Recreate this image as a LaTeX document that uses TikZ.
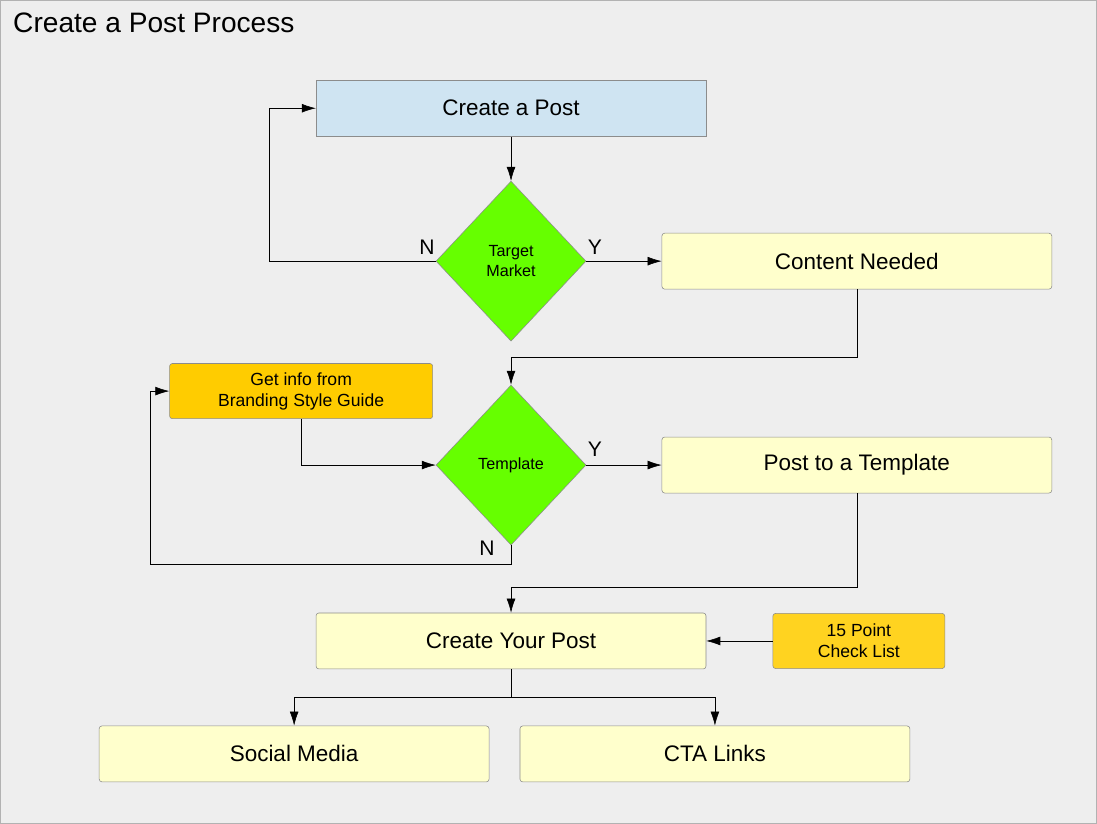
\documentclass[tikz,border=0pt]{standalone}
\usepackage{fontspec}
\setmainfont{Liberation Sans}
\usepackage{tikz}
\usetikzlibrary{shapes.geometric,arrows.meta}
\definecolor{bgGray}{RGB}{238,238,238}
\definecolor{postBlue}{RGB}{207,228,242}
\definecolor{stepYellow}{RGB}{255,255,204}
\definecolor{infoOrange}{RGB}{255,204,0}
\definecolor{listOrange}{RGB}{255,211,32}
\definecolor{askGreen}{RGB}{102,255,0}
\tikzset{
    stage/.style={shape=rectangle, rounded corners=2pt, draw=black!45, fill=stepYellow, minimum width=9.75cm, minimum height=1.4cm, font=\fontsize{16}{19}\selectfont},
    info/.style={shape=rectangle, rounded corners=2pt, draw=black!45, fill=infoOrange, minimum height=1.38cm, align=center, font=\fontsize{12.5}{15}\selectfont},
    ask/.style={shape=diamond, draw=black!45, fill=askGreen, minimum width=3.75cm, minimum height=4cm, inner sep=0pt, align=center, font=\fontsize{11.5}{14}\selectfont},
    flow/.style={-{Latex[length=3.5mm,width=2.2mm]}, black},
    tag/.style={font=\fontsize{15}{18}\selectfont}
}
\begin{document}
\begin{tikzpicture}[x=0.025cm, y=-0.025cm]
            \draw[draw=black!30, fill=bgGray] (0,0) rectangle (1097,823);
            \node[anchor=west, font=\fontsize{20}{24}\selectfont] (title) at (8,23) {Create a Post Process};

            \node[stage, rounded corners=0pt, fill=postBlue] (P) at (511,108) {Create a Post};
            \node[ask] (T) at (511,261) {Target\\Market};
            \node[stage] (C) at (857,261) {Content Needed};
            \node[ask] (M) at (511,465) {Template};
            \node[info, minimum width=6.58cm] (G) at (301,391) {Get info from\\Branding Style Guide};
            \node[stage] (S) at (857,465) {Post to a Template};
            \node[stage] (Y) at (511,641) {Create Your Post};
            \node[info, fill=listOrange, minimum width=4.3cm] (L) at (859,641) {15 Point\\Check List};
            \node[stage] (SM) at (294,754) {Social Media};
            \node[stage] (CTA) at (715,754) {CTA Links};

            \draw[flow] (P) -- (T);
            \draw[flow] (T.west) -- (269,261) |- (P.west);
            \draw[flow] (T.east) -- (C.west);
            \draw[flow] (C.south) |- (511,357) -- (M.north);
            \draw[flow] (G.south) |- (M.west);
            \draw[flow] (M.south) |- (150,564) |- (G.west);
            \draw[flow] (M.east) -- (S.west);
            \draw[flow] (S.south) |- (511,587) -- (Y.north);
            \draw[flow] (L.west) -- (Y.east);
            \draw[flow] (Y.south) -- (511,697) -| (SM.north);
            \draw[flow] (511,697) -| (CTA.north);

            \node[tag] (n1) at (427,247) {N};
            \node[tag] (y1) at (595,247) {Y};
            \node[tag] (y2) at (595,449) {Y};
            \node[tag] (n2) at (487,548) {N};
        \end{tikzpicture}
\end{document}
